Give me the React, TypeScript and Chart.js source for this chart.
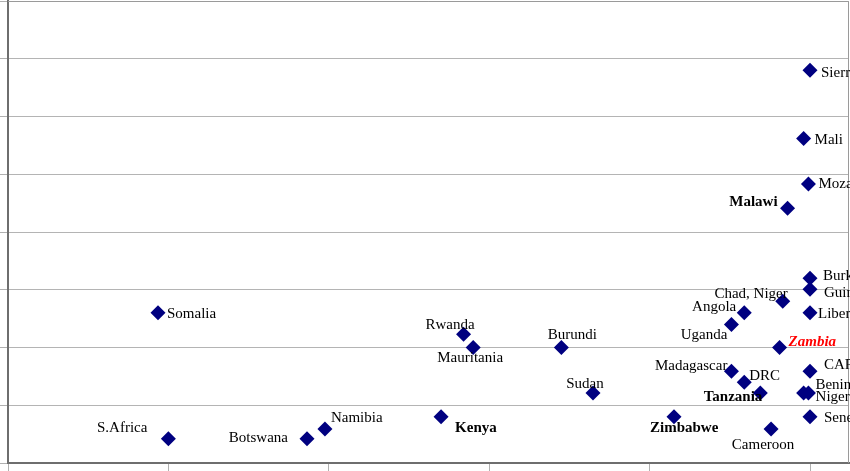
import React, { useEffect, useRef } from "react";
import { Chart, registerables } from "chart.js";

Chart.register(...registerables);

const countries = [
  "S.Africa", "Botswana", "Namibia", "Kenya", "Sudan", "Zimbabwe", "Cameroon", "Senegal",
  "Benin", "Nigeria", "Tanzania", "DRC", "Madagascar", "CAR", "Zambia", "Uganda",
  "Angola", "Chad, Niger", "Liberia", "Guinea", "Burkina Faso", "Malawi", "Mozambique", "Mali",
  "Sierra Leone", "Rwanda", "Mauritania", "Burundi", "Somalia",
];

const xValues = [
  1.0, 1.864, 1.976, 2.70, 3.647, 4.152, 4.757, 5.0,
  4.99, 4.96, 4.69, 4.59, 4.51, 5.0, 4.81, 4.51,
  4.59, 4.83, 5.0, 5.0, 5.0, 4.86, 4.99, 4.96,
  5.0, 2.84, 2.90, 3.45, 0.935,
];

const yValues = [
  0.42, 0.42, 0.59, 0.80, 1.21, 0.80, 0.59, 0.80,
  1.21, 1.21, 1.21, 1.40, 1.59, 1.59, 2.0, 2.40,
  2.60, 2.80, 2.60, 3.01, 3.20, 4.41, 4.83, 5.62,
  6.80, 2.23, 2.0, 2.0, 2.60,
];

// label emphasis: 0 normal, 1 bold, 2 bold italic red
const emphasis = [
  0, 0, 0, 1, 0, 1, 0, 0,
  0, 0, 1, 0, 0, 0, 2, 0,
  0, 0, 0, 0, 0, 1, 0, 0,
  0, 0, 0, 0, 0,
];

// label placement relative to the marker: [dx, dy, align]
const labelPlacement: [number, number, CanvasTextAlign][] = [
  [-21, -12, "right"], [-19, -2, "right"], [6, -12, "left"], [14, 10, "left"],
  [-8, -10, "center"], [-24, 10, "left"], [-8, 15, "center"], [14, 0, "left"],
  [7, -9, "left"], [12, 3, "left"], [2, 3, "right"], [5, -7, "left"],
  [-4, -6, "right"], [14, -7, "left"], [9, -6, "left"], [-4, 10, "right"],
  [-8, -7, "right"], [5, -8, "right"], [8, 0, "left"], [14, 3, "left"],
  [13, -3, "left"], [-10, -7, "right"], [10, -1, "left"], [11, 1, "left"],
  [11, 2, "left"], [11, -10, "right"], [-3, 10, "center"], [11, -13, "center"],
  [9, 0, "left"],
];

const xTickStep = 1;
const yTickStep = 1;

const labelPlugin = {
  id: "pointLabels",
  afterDatasetsDraw(chart: any) {
    const ctx = chart.ctx;
    const meta = chart.getDatasetMeta(0);
    ctx.save();
    meta.data.forEach((pt: any, i: number) => {
      const [dx, dy, align] = labelPlacement[i];
      const em = emphasis[i];
      ctx.font =
        em === 2
          ? "italic bold 15px 'Liberation Serif'"
          : em === 1
          ? "bold 15px 'Liberation Serif'"
          : "15px 'Liberation Serif'";
      ctx.fillStyle = em === 2 ? "#ff0000" : "#000000";
      ctx.textAlign = align;
      ctx.textBaseline = "middle";
      ctx.fillText(countries[i], pt.x + dx, pt.y + dy + 1);
    });
    ctx.restore();
  },
};

const framePlugin = {
  id: "frame",
  beforeDatasetsDraw(chart: any) {
    const { ctx, chartArea } = chart;
    ctx.save();
    ctx.strokeStyle = "#9a9a9a";
    ctx.lineWidth = 1;
    ctx.beginPath();
    ctx.moveTo(chartArea.left, chartArea.top + 0.5);
    ctx.lineTo(chartArea.right - 0.5, chartArea.top + 0.5);
    ctx.lineTo(chartArea.right - 0.5, chartArea.bottom);
    ctx.stroke();
    ctx.restore();
  },
};

export default function App() {
  const ref = useRef<HTMLCanvasElement>(null);
  useEffect(() => {
    if (!ref.current) return;
    const chart = new Chart(ref.current, {
      type: "scatter",
      data: {
        datasets: [
          {
            data: xValues.map((x, i) => ({ x, y: yValues[i] })),
            pointStyle: "rectRot",
            pointRadius: 7.5,
            pointHoverRadius: 7.5,
            backgroundColor: "#000080",
            borderColor: "#000080",
            borderWidth: 0,
          },
        ],
      },
      options: {
        responsive: false,
        animation: false,
        devicePixelRatio: 1,
        layout: { autoPadding: false, padding: { top: 1, right: 1, left: 0, bottom: 0 } },
        plugins: { legend: { display: false }, tooltip: { enabled: false } },
        scales: {
          x: {
            type: "linear",
            min: 0,
            max: 5.243,
            ticks: { display: false, stepSize: xTickStep, includeBounds: false },
            grid: { drawOnChartArea: false, drawTicks: true, tickLength: 8, tickColor: "#b0b0b0" },
            border: { color: "#6e6e6e", width: 2 },
          },
          y: {
            type: "linear",
            min: 0,
            max: 8,
            ticks: { display: false, stepSize: yTickStep },
            grid: { color: "#b4b4b4", lineWidth: 1, drawTicks: true, tickLength: 8, tickColor: "#b0b0b0" },
            border: { color: "#6e6e6e", width: 2 },
          },
        },
      },
      plugins: [framePlugin, labelPlugin],
    });
    return () => chart.destroy();
  }, []);
  return (
    <div style={{ position: "absolute", left: 0, top: 0, width: 850, height: 471, background: "#fff" }}>
      <canvas ref={ref} width={850} height={471} style={{ display: "block" }} />
    </div>
  );
}
